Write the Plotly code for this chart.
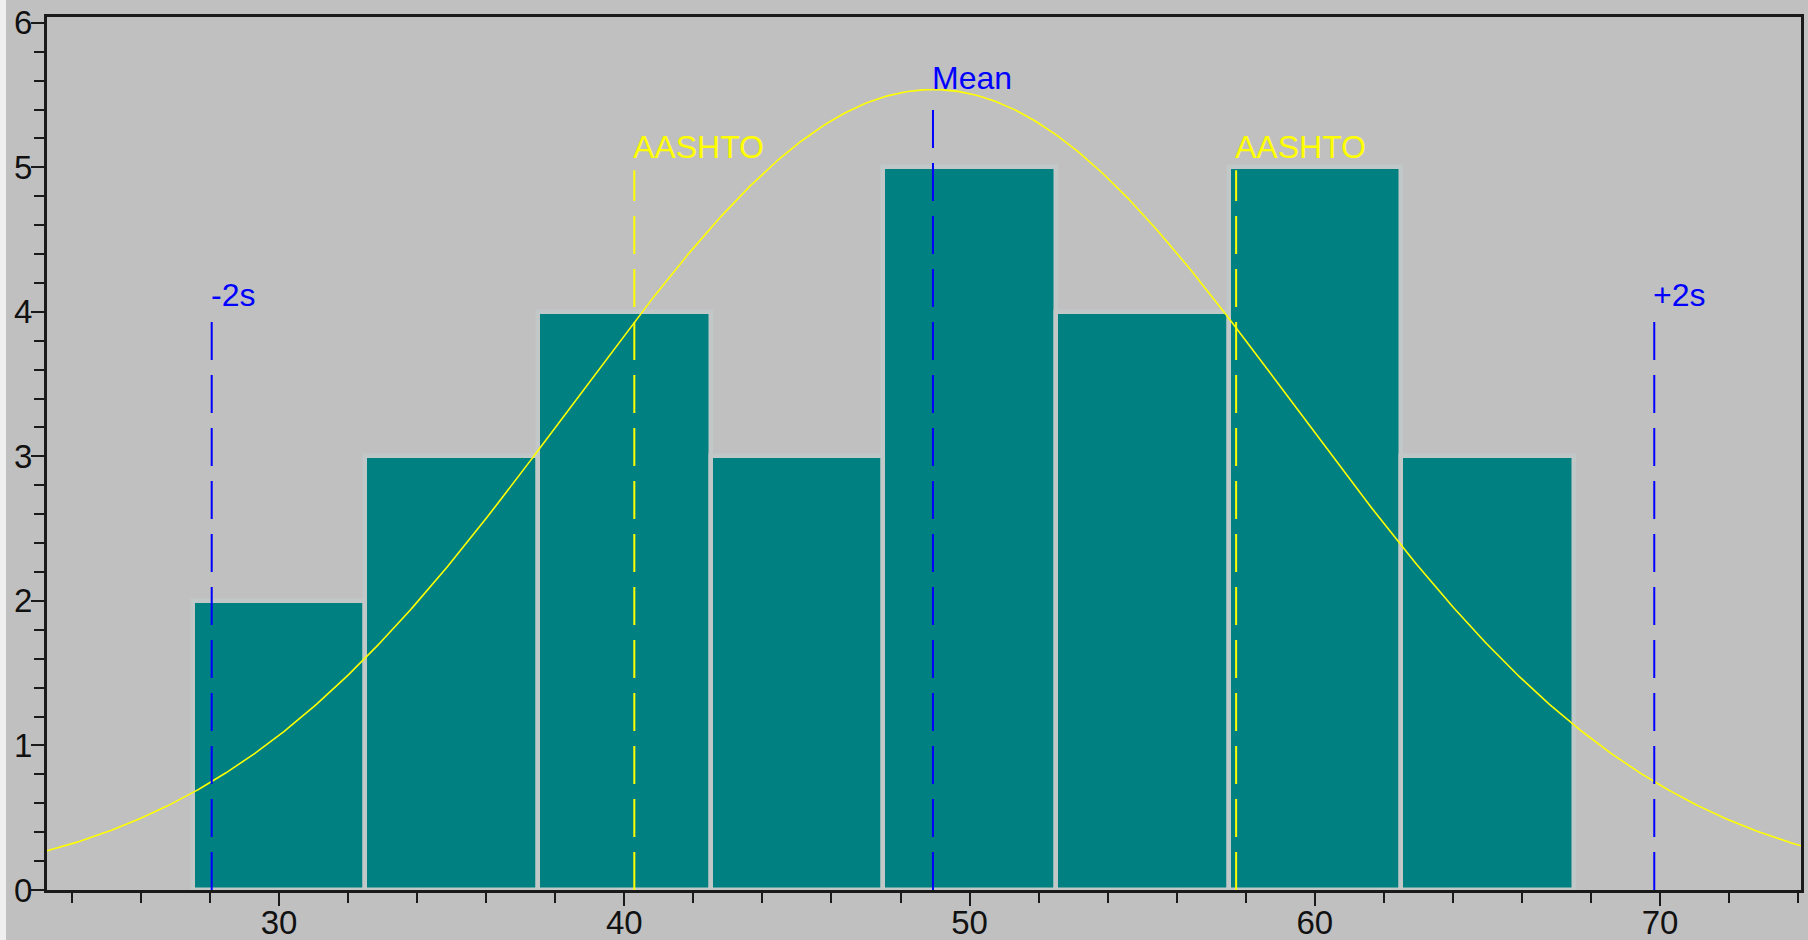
import numpy as np
import plotly.graph_objects as go

# Histogram bins (centres, width) and counts
bin_centers = [30, 35, 40, 45, 50, 55, 60, 65]
counts = [2, 3, 4, 3, 5, 4, 5, 3]
bin_width = 5

# Summary statistics of the sample
mean_val = 48.94
std_val = 10.445

# Specification limits
aashto_limits = [40.29, 57.72]

# Reference lines: label, x position, colour, line top, label height
ref_labels = ["-2s", "Mean", "+2s", "AASHTO", "AASHTO"]
ref_x = [mean_val - 2 * std_val, mean_val, mean_val + 2 * std_val,
         aashto_limits[0], aashto_limits[1]]
ref_colors = ["#0000FF", "#0000FF", "#0000FF", "#FFFF00", "#FFFF00"]
ref_tops = [3.94, 5.42, 3.94, 4.98, 4.98]
ref_label_y = [4.12, 5.62, 4.12, 5.14, 5.14]

x_range = [23.28, 74.08]
y_range = [0, 6.04]

BG = "#C0C0C0"
FONT = "Liberation Sans, Arial, sans-serif"

fig = go.Figure()

fig.add_trace(go.Bar(
    x=bin_centers, y=counts, width=bin_width,
    marker=dict(color="#008080", line=dict(color="#C2C8C8", width=4.5)),
    hoverinfo="x+y", showlegend=False,
))

# Fitted normal curve scaled to the histogram (n * bin width * pdf)
n_total = sum(counts)
xs = np.linspace(x_range[0], x_range[1], 600)
ys = n_total * bin_width * np.exp(-0.5 * ((xs - mean_val) / std_val) ** 2) / (std_val * np.sqrt(2 * np.pi))
fig.add_trace(go.Scatter(
    x=xs, y=ys, mode="lines",
    line=dict(color="#FFFF00", width=1.6),
    hoverinfo="skip", showlegend=False,
))

for lab, xv, col, top, ly in zip(ref_labels, ref_x, ref_colors, ref_tops, ref_label_y):
    fig.add_shape(type="line", xref="x", yref="y", x0=xv, x1=xv, y0=0, y1=top,
                  line=dict(color=col, width=2, dash="38px,15px"), layer="above")
    fig.add_annotation(x=xv, y=ly, xref="x", yref="y", text=lab, showarrow=False,
                       xanchor="left", yanchor="middle", xshift=-3,
                       font=dict(family=FONT, size=32, color=col))

# Light strip along the left edge of the page
fig.add_shape(type="rect", xref="paper", yref="paper",
              x0=-47 / 1754, x1=-41 / 1754, y0=-50 / 873, y1=1 + 17 / 873,
              fillcolor="#EFEFEF", line=dict(width=0), layer="below")

axis_common = dict(
    showgrid=False, zeroline=False, showline=True, mirror=True,
    linecolor="#1a1a1a", linewidth=3, automargin=False,
    ticks="outside", ticklen=13, tickwidth=2, tickcolor="#1a1a1a",
    tickfont=dict(family=FONT, size=33, color="#111111"),
)

fig.update_layout(
    width=1808, height=940,
    margin=dict(l=47, r=7, t=17, b=50),
    paper_bgcolor=BG, plot_bgcolor=BG,
    bargap=0,
    xaxis=dict(range=x_range, tick0=0, dtick=10, ticklabelstandoff=-12,
               minor=dict(dtick=2, ticks="outside", ticklen=10, tickwidth=2, tickcolor="#1a1a1a"),
               **axis_common),
    yaxis=dict(range=y_range, tick0=0, dtick=1, ticklabelstandoff=-8,
               minor=dict(dtick=0.2, ticks="outside", ticklen=10, tickwidth=2, tickcolor="#1a1a1a"),
               **axis_common),
)

fig.write_html("out.html")
